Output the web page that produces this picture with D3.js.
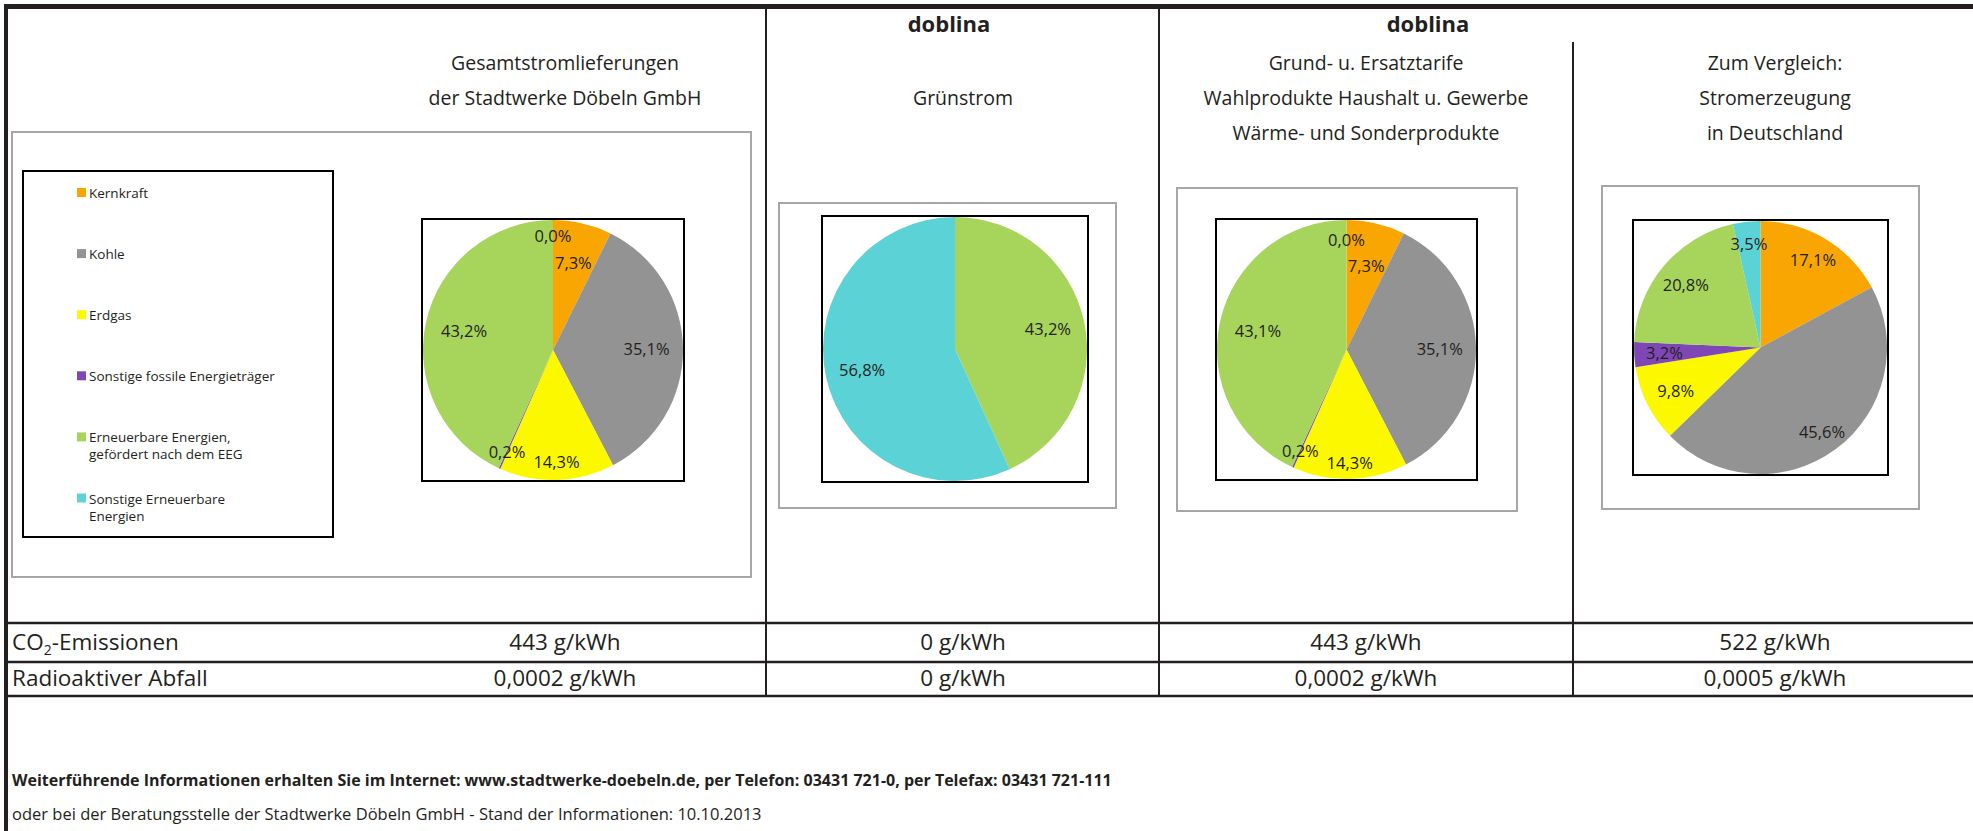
<!DOCTYPE html>
<html><head><meta charset="utf-8">
<script src="https://cdn.jsdelivr.net/npm/d3@7/dist/d3.min.js"></script>
<style>
body{margin:0;background:#fff}
svg{display:block}
text{font-family:"Open Sans",sans-serif;fill:#231f20}
</style>
</head><body>
<svg id="chart" width="1973" height="831"></svg>
<script>
// ---------------- DATA ----------------
const categories = ["Kernkraft", "Kohle", "Erdgas", "Sonstige fossile Energieträger",
  "Erneuerbare Energien, gefördert nach dem EEG", "Sonstige Erneuerbare Energien"];
const categoryColors = ["#F9A602", "#939393", "#FBF800", "#7F47B5", "#A7D55C", "#5BD3D6"];

const seriesGesamt      = [7.3, 35.1, 14.3, 0.2, 43.2, 0.0];
const seriesGruenstrom  = [null, null, null, null, 43.2, 56.8];
const seriesGrundtarife = [7.3, 35.1, 14.3, 0.2, 43.1, 0.0];
const seriesDeutschland = [17.1, 45.6, 9.8, 3.2, 20.8, 3.5];

const brandLabels  = [null, "doblina", "doblina", null];
const headerTitles = [
  ["Gesamtstromlieferungen", "der Stadtwerke Döbeln GmbH"],
  ["Grünstrom"],
  ["Grund- u. Ersatztarife", "Wahlprodukte Haushalt u. Gewerbe", "Wärme- und Sonderprodukte"],
  ["Zum Vergleich:", "Stromerzeugung", "in Deutschland"]
];
const rowLabels   = ["CO2-Emissionen", "Radioaktiver Abfall"];
const co2Values   = [443, 0, 443, 522];
const wasteValues = [0.0002, 0, 0.0002, 0.0005];
const unitLabel   = "g/kWh";
const footerLines = [
  "Weiterführende Informationen erhalten Sie im Internet: www.stadtwerke-doebeln.de, per Telefon: 03431 721-0, per Telefax: 03431 721-111",
  "oder bei der Beratungsstelle der Stadtwerke Döbeln GmbH - Stand der Informationen: 10.10.2013"
];

// ---------------- LAYOUT ----------------
const W = 1973, H = 831;
const colCenters   = [565, 963, 1366, 1775];
const brandCenters = [null, 949, 1428, null];
const headerSlot0  = [0, 1, 0, 0];
const pieLayout = [
  { series: seriesGesamt,      frame: [12, 132, 739, 445],  box: [422, 219, 262, 262],
    labelR: [0.69, 0.72, 0.86, 0.86, 0.70, 0.88] },
  { series: seriesGruenstrom,  frame: [779, 203, 337, 305], box: [822, 216, 266, 266],
    labelR: [0.72, 0.72, 0.72, 0.72, 0.72, 0.72] },
  { series: seriesGrundtarife, frame: [1177, 188, 340, 323], box: [1216, 219, 261, 261],
    labelR: [0.67, 0.72, 0.87, 0.86, 0.70, 0.85] },
  { series: seriesDeutschland, frame: [1602, 186, 317, 323], box: [1633, 220, 255, 255],
    labelR: [0.81, 0.82, 0.75, 0.76, 0.77, 0.83] }
];
const legendBox = [23, 171, 310, 366];

const de = d3.formatLocale({decimal: ",", thousands: ".", grouping: [3], currency: ["", " €"]});
const pct = v => de.format(".1f")(v) + "%";
const fmtVal = v => (v === 0 ? "0" : (Number.isInteger(v) ? de.format("d")(v) : de.format(".4f")(v))) + " " + unitLabel;

const svg = d3.select("#chart");
svg.append("rect").attr("width", W).attr("height", H).attr("fill", "#fff");

const lineColor = "#231f20";
// outer frame
svg.append("rect").attr("x", 4).attr("y", 4).attr("width", W - 4).attr("height", 5).attr("fill", lineColor);
svg.append("rect").attr("x", 4).attr("y", 4).attr("width", 4).attr("height", H - 4).attr("fill", lineColor);

// column dividers
[[766, 9], [1159, 9], [1573, 42]].forEach(([x, y0]) => {
  svg.append("line").attr("x1", x).attr("x2", x).attr("y1", y0).attr("y2", 697)
    .attr("stroke", lineColor).attr("stroke-width", 2);
});
// table lines
[623, 662, 696].forEach(y => {
  svg.append("line").attr("x1", 8).attr("x2", W).attr("y1", y).attr("y2", y)
    .attr("stroke", lineColor).attr("stroke-width", 2.6);
});

// headers
brandLabels.forEach((b, i) => {
  if (!b) return;
  svg.append("text").attr("x", brandCenters[i]).attr("y", 32).attr("text-anchor", "middle")
    .attr("font-size", 22).attr("font-weight", 700).text(b);
});
headerTitles.forEach((lines, i) => {
  lines.forEach((t, j) => {
    svg.append("text").attr("x", colCenters[i]).attr("y", 70 + 34.8 * (headerSlot0[i] + j))
      .attr("text-anchor", "middle").attr("font-size", 19.5).attr("fill", "#262626").text(t);
  });
});

// pies
const pie = d3.pie().sort(null).value(d => d == null ? 0 : d);
pieLayout.forEach(p => {
  const [fx, fy, fw, fh] = p.frame;
  svg.append("rect").attr("x", fx).attr("y", fy).attr("width", fw).attr("height", fh)
    .attr("fill", "#fff").attr("stroke", "#A6A6A6").attr("stroke-width", 2);
  const [bx, by, bw, bh] = p.box;
  svg.append("rect").attr("x", bx).attr("y", by).attr("width", bw).attr("height", bh)
    .attr("fill", "#fff").attr("stroke", "#000").attr("stroke-width", 2);
  const cx = bx + bw / 2, cy = by + bh / 2, r = Math.min(bw, bh) / 2 - 1;
  const g = svg.append("g").attr("transform", `translate(${cx},${cy})`);
  const arcs = pie(p.series);
  const arc = d3.arc().innerRadius(0).outerRadius(r);
  g.selectAll("path.slice").data(arcs).join("path").attr("class", "slice")
    .attr("d", arc).attr("fill", (d, i) => categoryColors[i]);
  g.selectAll("text.lbl").data(arcs.filter(d => d.data != null)).join("text").attr("class", "lbl")
    .attr("transform", d => {
      const i = d.index, a = (d.startAngle + d.endAngle) / 2, rr = r * p.labelR[i];
      return `translate(${Math.sin(a) * rr},${-Math.cos(a) * rr})`;
    })
    .attr("text-anchor", "middle").attr("dominant-baseline", "central")
    .attr("font-size", 16.5).attr("fill", "#333").text(d => pct(d.data));
});

// legend
{
  const [lx, ly, lw, lh] = legendBox;
  svg.append("rect").attr("x", lx).attr("y", ly).attr("width", lw).attr("height", lh)
    .attr("fill", "#fff").attr("stroke", "#000").attr("stroke-width", 2);
  const items = svg.append("g").selectAll("g").data(categories).join("g")
    .attr("transform", (d, i) => `translate(77,${193 + 61.1 * i})`);
  items.append("rect").attr("x", 0).attr("y", -5).attr("width", 9).attr("height", 9)
    .attr("fill", (d, i) => categoryColors[i]);
  items.each(function (d) {
    const t = d3.select(this).append("text").attr("x", 12).attr("y", 5).attr("font-size", 13.5).attr("fill", "#262626");
    const words = d.split(" ");
    let line = [], tsp = t.append("tspan").attr("x", 12).attr("dy", 0);
    words.forEach(w => {
      line.push(w); tsp.text(line.join(" "));
      if (tsp.node().getComputedTextLength() > 192 && line.length > 1) {
        line.pop(); tsp.text(line.join(" ")); line = [w];
        tsp = t.append("tspan").attr("x", 12).attr("dy", 17).text(w);
      }
    });
  });
}

// table
rowLabels.forEach((lab, i) => {
  const y = [650, 686][i];
  const t = svg.append("text").attr("x", 12).attr("y", y).attr("font-size", 22.5);
  if (lab.startsWith("CO2")) {
    t.append("tspan").text("CO");
    t.append("tspan").attr("font-size", 14).attr("dy", 5).text("2");
    t.append("tspan").attr("dy", -5).text(lab.slice(3));
  } else t.text(lab);
  const vals = i === 0 ? co2Values : wasteValues;
  vals.forEach((v, j) => {
    svg.append("text").attr("x", colCenters[j]).attr("y", y).attr("text-anchor", "middle")
      .attr("font-size", 22.5).text(fmtVal(v));
  });
});

// footer
svg.append("text").attr("x", 12).attr("y", 786).attr("font-size", 16).attr("font-weight", 700).text(footerLines[0]);
svg.append("text").attr("x", 12).attr("y", 820).attr("font-size", 16.5).text(footerLines[1]);
</script>
</body></html>
